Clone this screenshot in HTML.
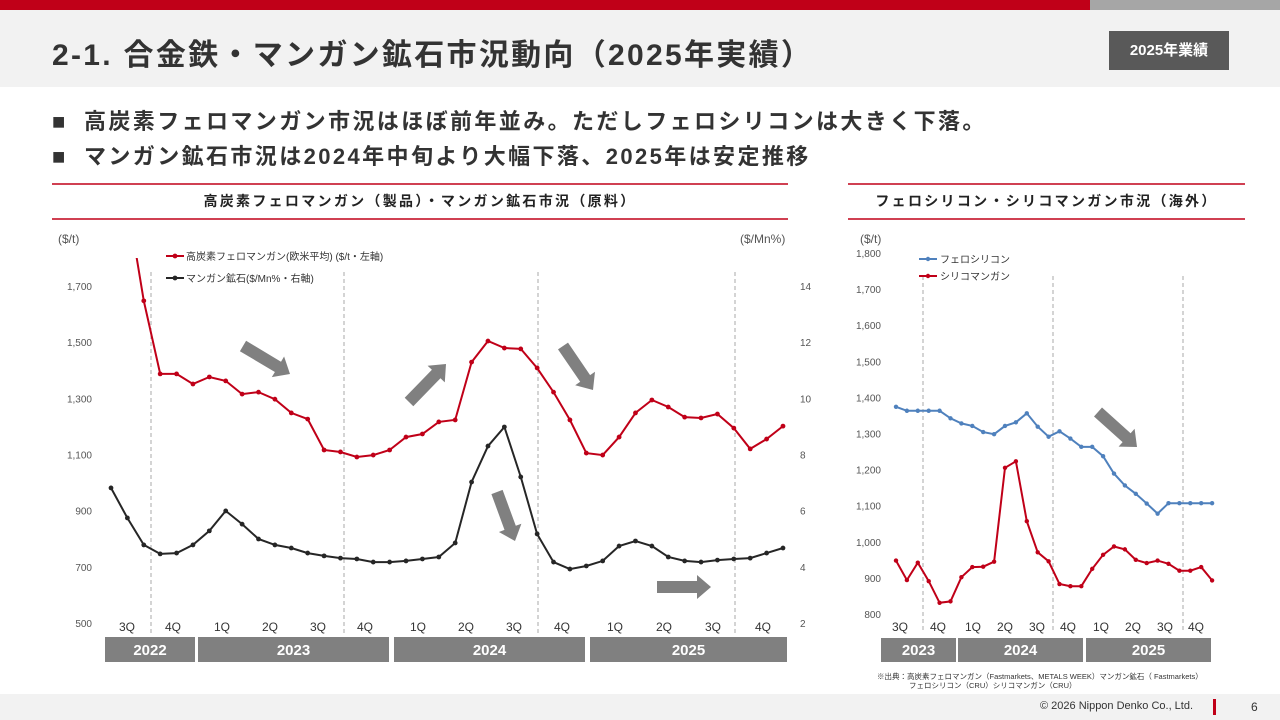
<!DOCTYPE html>
<html><head><meta charset="utf-8">
<style>
body{margin:0;width:1280px;height:720px;overflow:hidden;background:#fff;font-family:"Liberation Sans","Noto Sans CJK JP",sans-serif;position:relative}
.abs{position:absolute}
.bul{font-size:22px;font-weight:bold;color:#333;white-space:nowrap;letter-spacing:2.4px}
.bul span{display:inline-block;width:32px;letter-spacing:0}
</style></head><body>
<div class="abs" style="left:0;top:0;width:1090px;height:10px;background:#c00018"></div>
<div class="abs" style="left:1090px;top:0;width:190px;height:10px;background:#a6a6a6"></div>
<div class="abs" style="left:0;top:10px;width:1280px;height:77px;background:#f2f2f2"></div>
<div class="abs" style="left:52px;top:30px;font-size:30px;font-weight:bold;color:#333;white-space:nowrap;letter-spacing:2.3px">2-1. 合金鉄・マンガン鉱石市況動向（2025年実績）</div>
<div class="abs" style="left:1109px;top:31px;width:120px;height:39px;background:#595959;color:#fff;font-size:15px;font-weight:bold;line-height:39px;text-align:center">2025年業績</div>
<div class="abs bul" style="left:52px;top:104px"><span>■</span>高炭素フェロマンガン市況はほぼ前年並み。ただしフェロシリコンは大きく下落。</div>
<div class="abs bul" style="left:52px;top:139px"><span>■</span>マンガン鉱石市況は2024年中旬より大幅下落、2025年は安定推移</div>

<svg class="abs" style="left:0;top:0" width="1280" height="720" id="chart" font-family="Liberation Sans, Noto Sans CJK JP, sans-serif"></svg>

<div class="abs" style="left:0;top:694px;width:1280px;height:26px;background:#f2f2f2"></div>
<div class="abs" style="left:1040px;top:700px;font-size:11px;color:#333">© 2026 Nippon Denko Co., Ltd.</div>
<div class="abs" style="left:1213px;top:699px;width:3px;height:16px;background:#c00018"></div>
<div class="abs" style="left:1251px;top:700px;font-size:12px;color:#333">6</div>

<script>
const NS='http://www.w3.org/2000/svg';
const svg=document.getElementById('chart');
function mk(tag,attrs,parent){const e=document.createElementNS(NS,tag);for(const k in attrs)e.setAttribute(k,attrs[k]);(parent||svg).appendChild(e);return e;}
function txt(x,y,s,attrs){const e=mk('text',Object.assign({x:x,y:y},attrs||{}));e.textContent=s;return e;}

// ---- Left chart data ----
const fmnValues=[null,2000,1647,1387,1387,1351,1376,1362,1315,1322,1297,1248,1226,1116,1109,1091,1098,1116,1162,1173,1216,1223,1429,1504,1479,1476,1408,1322,1223,1105,1098,1162,1248,1294,1269,1233,1230,1244,1194,1120,1155,1201];
const oreValues=[6.81,5.74,4.78,4.46,4.49,4.78,5.28,5.99,5.52,4.99,4.78,4.67,4.49,4.39,4.31,4.28,4.17,4.17,4.21,4.28,4.35,4.85,7.02,8.30,8.98,7.20,5.17,4.17,3.92,4.03,4.21,4.74,4.92,4.74,4.35,4.21,4.17,4.24,4.28,4.31,4.49,4.67];
const leftTicks=[500,700,900,1100,1300,1500,1700];
const rightTicks=[2,4,6,8,10,12,14];
const leftQuarters=['3Q','4Q','1Q','2Q','3Q','4Q','1Q','2Q','3Q','4Q','1Q','2Q','3Q','4Q'];
const leftYears=['2022','2023','2024','2025'];

// ---- Right chart data ----
const fesiValues=[1374,1363,1363,1363,1363,1342,1328,1321,1304,1298,1321,1331,1356,1319,1291,1306,1286,1263,1263,1237,1189,1156,1133,1106,1078,1107,1107,1107,1107,1107];
const simnValues=[948,894,942,891,831,835,902,930,931,945,1205,1223,1057,971,946,883,877,877,925,964,987,979,950,941,948,939,920,920,930,893];
const rTicks=[800,900,1000,1100,1200,1300,1400,1500,1600,1700,1800];
const rightQuarters=['3Q','4Q','1Q','2Q','3Q','4Q','1Q','2Q','3Q','4Q'];
const rightYears=['2023','2024','2025'];

// axis functions
const lx=i=>111+i*16.39;
const ly=v=>623-(v-500)/200*56.17;
const ry2=v=>623-(v-2)/2*56.17;
const rx=i=>896+i*10.9;
const ryR=v=>614-(v-800)/100*36.1;

// section header lines
[[52,788,'高炭素フェロマンガン（製品）・マンガン鉱石市況（原料）','left-chart-title'],[848,1245,'フェロシリコン・シリコマンガン市況（海外）','right-chart-title']].forEach(([a,b,t,n])=>{
  const l1=mk('line',{x1:a,x2:b,y1:184,y2:184,stroke:'#c00018','stroke-width':1.5});
  
  
  const l2=mk('line',{x1:a,x2:b,y1:219,y2:219,stroke:'#c00018','stroke-width':1.5});
  
  
  const tt=txt((a+b)/2,206,t,{'text-anchor':'middle','font-size':14,'font-weight':'bold',fill:'#222','letter-spacing':2.3});
  
  
});

function clip(id,x,y,w,h){const d=mk('defs',{});const c=mk('clipPath',{id:id},d);mk('rect',{x:x,y:y,width:w,height:h},c);}
clip('cl',100,258,700,380);
clip('cr',880,245,340,380);

// left axes labels
let u=txt(58,243,'($/t)',{'font-size':12,fill:'#555'});


u=txt(740,243,'($/Mn%)',{'font-size':12,fill:'#555'});


leftTicks.forEach(v=>{const t=txt(92,ly(v)+4,v.toLocaleString('en-US'),{'text-anchor':'end','font-size':10,fill:'#555'});
  
  });
rightTicks.forEach(v=>{const t=txt(800,ry2(v)+4,String(v),{'font-size':10,fill:'#555'});
  
  });
[151,344,538,735].forEach(x=>{const l=mk('line',{x1:x,x2:x,y1:272,y2:633,stroke:'#aaa','stroke-dasharray':'4,3'});
  
  });

function series(vals,xf,yf,color,clipId,name,r){
  const g=mk('g',{'clip-path':'url(#'+clipId+')'});
  
  
  let d='';vals.forEach((v,i)=>{if(v==null)return;d+=(d?'L':'M')+xf(i).toFixed(1)+','+yf(v).toFixed(1);});
  mk('path',{d:d,fill:'none',stroke:color,'stroke-width':2},g);
  vals.forEach((v,i)=>{if(v==null)return;const c=mk('circle',{cx:xf(i),cy:yf(v),r:r,fill:color},g);
    
    });
}
series(fmnValues,lx,ly,'#c00018','cl','ferromanganese-line',2.4);
series(oreValues,lx,ry2,'#262626','cl','manganese-ore-line',2.4);

// left legend
mk('line',{x1:166,x2:184,y1:256,y2:256,stroke:'#c00018','stroke-width':2});mk('circle',{cx:175,cy:256,r:2.4,fill:'#c00018'});
let lg=txt(186,260,'高炭素フェロマンガン(欧米平均) ($/t・左軸)',{'font-size':10,fill:'#333'});


mk('line',{x1:166,x2:184,y1:278,y2:278,stroke:'#262626','stroke-width':2});mk('circle',{cx:175,cy:278,r:2.4,fill:'#262626'});
lg=txt(186,282,'マンガン鉱石($/Mn%・右軸)',{'font-size':10,fill:'#333'});



// left quarters & years
const lqx=[127,173,222,270,318,365,418,466,514,562,615,664,713,763];
leftQuarters.forEach((q,i)=>{const t=txt(lqx[i],631,q,{'text-anchor':'middle','font-size':12,fill:'#333'});
  
  });
[[105,195],[198,389],[394,585],[590,787]].forEach(([a,b],i)=>{
  const r=mk('rect',{x:a,y:637,width:b-a,height:25,fill:'#808080'});
  
  
  const t=txt((a+b)/2,655,leftYears[i],{'text-anchor':'middle','font-size':15,'font-weight':'bold',fill:'#fff'});
  
  
});

// right axes
u=txt(860,243,'($/t)',{'font-size':12,fill:'#555'});


rTicks.forEach(v=>{const t=txt(881,ryR(v)+4,v.toLocaleString('en-US'),{'text-anchor':'end','font-size':10,fill:'#555'});
  
  });
[923,1053,1183].forEach(x=>{const l=mk('line',{x1:x,x2:x,y1:276,y2:633,stroke:'#aaa','stroke-dasharray':'4,3'});
  
  });
series(fesiValues,rx,ryR,'#4f81bd','cr','ferrosilicon-line',2.2);
series(simnValues,rx,ryR,'#c00018','cr','silicomanganese-line',2.2);
mk('line',{x1:919,x2:937,y1:259,y2:259,stroke:'#4f81bd','stroke-width':2});mk('circle',{cx:928,cy:259,r:2.2,fill:'#4f81bd'});
lg=txt(940,263,'フェロシリコン',{'font-size':10,fill:'#333'});


mk('line',{x1:919,x2:937,y1:276,y2:276,stroke:'#c00018','stroke-width':2});mk('circle',{cx:928,cy:276,r:2.2,fill:'#c00018'});
lg=txt(940,280,'シリコマンガン',{'font-size':10,fill:'#333'});


const rqx=[900,938,973,1005,1037,1068,1101,1133,1165,1196];
rightQuarters.forEach((q,i)=>{const t=txt(rqx[i],631,q,{'text-anchor':'middle','font-size':12,fill:'#333'});
  
  });
[[881,956],[958,1083],[1086,1211]].forEach(([a,b],i)=>{
  const r=mk('rect',{x:a,y:638,width:b-a,height:24,fill:'#808080'});
  
  
  const t=txt((a+b)/2,655,rightYears[i],{'text-anchor':'middle','font-size':15,'font-weight':'bold',fill:'#fff'});
  
  
});
let s=txt(877,679,'※出典：高炭素フェロマンガン（Fastmarkets、METALS WEEK）マンガン鉱石（ Fastmarkets）',{'font-size':7.5,fill:'#333'});


s=txt(909,688,'フェロシリコン（CRU）シリコマンガン（CRU）',{'font-size':7.5,fill:'#333'});



// trend arrows
function arrow(x1,y1,x2,y2){
  const a=Math.atan2(y2-y1,x2-x1),L=Math.hypot(x2-x1,y2-y1),w=6,hw=12,hl=14;
  const pts=[[0,-w],[L-hl,-w],[L-hl,-hw],[L,0],[L-hl,hw],[L-hl,w],[0,w]].map(([px,py])=>[(x1+px*Math.cos(a)-py*Math.sin(a)).toFixed(1),(y1+px*Math.sin(a)+py*Math.cos(a)).toFixed(1)].join(','));
  const p=mk('polygon',{points:pts.join(' '),fill:'#808080'});
  
  
}
arrow(243,346,290,374);arrow(409,402,446,364);arrow(497,492,515,541);arrow(563,346,593,390);arrow(657,587,711,587);arrow(1098,412,1137,447);
</script>
</body></html>
